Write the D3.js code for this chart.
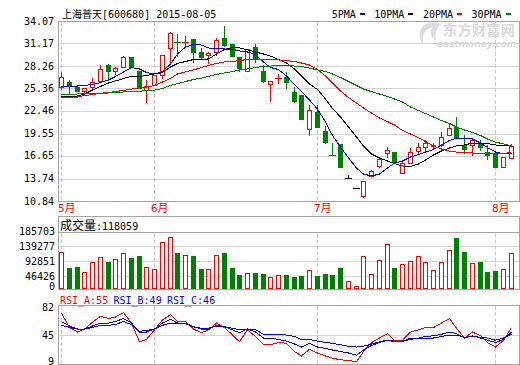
<!DOCTYPE html>
<html>
<head>
<meta charset="utf-8">
<script src="https://cdn.jsdelivr.net/npm/d3@7"></script>
<style>
  body { margin: 0; background: #fff; }
  svg { display: block; }
  text { font-family: "DejaVu Sans Mono", "Noto Sans CJK SC", monospace; font-size: 10px; }
</style>
</head>
<body>
<div id="chart"></div>
<script>
// trading days shown (2015)
const dates = [
  "05-14","05-15","05-18","05-19","05-20","05-21","05-22","05-25","05-26","05-27","05-28","05-29",
  "06-01","06-02","06-03","06-04","06-05","06-08","06-09","06-10","06-11","06-12","06-15","06-16",
  "06-17","06-18","06-19","06-23","06-24","06-25","06-26","06-29","06-30",
  "07-01","07-02","07-03","07-06","07-07","07-08","07-09","07-10","07-13","07-14","07-15","07-16",
  "07-17","07-20","07-21","07-22","07-23","07-24","07-27","07-28","07-29","07-30","07-31",
  "08-03","08-04","08-05"
];
const open = [25.51,26.20,25.55,25.00,25.49,26.37,28.39,27.66,28.17,29.39,27.66,25.17,25.81,27.10,30.55,31.42,31.40,31.71,30.11,29.64,
  30.03,31.84,31.10,29.39,27.66,30.68,27.66,25.90,26.74,26.80,24.95,24.52,20.09,22.36,19.87,16.80,18.20,13.77,12.48,11.48,
  14.10,15.40,17.00,17.12,14.41,15.78,17.33,17.85,17.99,18.07,19.36,20.35,18.07,18.07,18.36,17.20,17.07,15.27,16.35];
const high = [27.53,26.46,25.72,25.38,26.71,28.39,28.52,28.17,29.59,29.42,27.66,26.46,27.10,29.68,32.61,32.33,32.13,31.75,30.55,30.11,
  31.84,33.42,31.10,29.39,30.42,31.10,28.39,26.33,27.23,27.53,25.59,24.52,23.23,23.23,20.52,18.29,18.20,14.20,12.48,13.46,
  14.84,16.22,17.85,17.12,16.13,17.68,18.29,18.71,18.36,19.78,20.87,21.72,19.36,18.71,18.71,18.07,17.29,16.48,18.20];
const low = [25.26,24.82,25.00,24.87,25.36,26.20,26.46,27.17,28.09,28.13,25.38,23.58,25.81,26.71,28.82,29.55,30.75,28.78,29.13,28.69,
  29.68,30.84,29.59,27.66,27.66,28.82,26.16,23.78,26.11,25.46,23.66,21.46,19.36,20.35,18.36,16.78,15.19,13.77,12.48,11.32,
  14.07,15.27,16.56,15.71,14.41,15.71,17.00,17.33,17.51,17.94,19.36,18.93,17.00,16.78,17.42,16.20,15.19,15.27,16.35];
const close = [26.80,25.77,25.07,25.38,26.20,27.84,27.66,27.97,29.39,28.17,25.38,25.68,27.10,29.68,32.52,31.40,31.42,30.11,29.46,29.90,
  31.62,30.97,29.59,28.04,30.42,29.26,26.37,26.33,26.76,26.24,23.78,21.46,22.58,20.43,18.49,16.78,15.19,13.77,12.48,13.46,
  14.75,16.22,17.38,15.91,15.78,17.20,17.77,18.36,18.01,19.14,20.22,19.06,17.51,18.71,17.85,16.84,15.19,16.48,17.98];
const volume = [120400,71500,75600,58200,89300,104800,89300,99500,117300,102600,108900,73700,67500,151500,167000,117300,112900,108900,68400,67500,
  112900,117300,71500,49800,55100,56000,52900,42600,48800,48800,43500,46700,64400,46700,52900,49800,71500,30200,16500,107900,
  51900,95500,145300,71500,83100,92400,107900,89300,64400,89300,127500,164900,121300,86200,90200,59100,62200,68400,118059];

const ma5 = [25.62,25.68,25.68,25.75,25.87,26.13,26.46,26.91,27.49,28.07,27.88,27.42,27.23,27.55,28.52,29.81,30.71,31.04,30.97,30.59,
  30.52,30.46,30.42,30.20,30.07,29.75,28.78,28.07,27.81,26.97,25.87,24.97,23.87,22.71,21.04,19.29,17.81,16.39,15.10,14.32,
  14.07,14.32,15.10,15.74,16.00,16.52,16.84,17.16,17.49,18.07,18.65,18.97,18.97,18.84,18.32,17.74,17.16,16.91,17.03];
const ma10 = [24.30,24.33,24.39,24.65,25.16,25.62,26.07,26.33,26.65,26.91,26.91,27.04,27.23,27.42,28.13,28.59,28.84,29.10,29.13,29.17,
  29.81,30.39,30.65,30.59,30.33,30.07,29.81,29.55,29.10,28.65,27.88,26.97,25.94,25.23,24.00,22.78,21.68,20.39,19.10,17.94,
  16.91,16.39,16.00,15.68,15.36,15.29,15.61,16.13,16.78,17.29,17.68,17.94,18.07,18.32,18.32,18.26,18.07,18.00,17.94];
const ma20 = [24.20,24.22,24.26,24.45,24.58,24.74,24.84,24.97,25.10,25.29,25.45,25.55,25.75,26.20,26.65,27.23,27.49,27.75,28.07,28.33,
  28.59,28.78,28.84,28.97,29.10,29.13,29.10,29.04,29.04,28.97,28.84,28.65,28.39,27.81,26.97,26.07,25.04,24.20,23.49,22.84,
  22.20,21.55,21.10,20.65,19.94,19.49,19.03,18.52,17.94,17.55,17.29,17.16,17.07,17.03,16.97,16.91,16.91,16.97,17.10];
const ma30 = [24.61,24.62,24.65,24.67,24.71,24.74,24.78,24.84,24.91,24.93,25.01,25.07,25.16,25.36,25.75,26.00,26.26,26.52,26.71,26.91,
  27.17,27.36,27.55,27.75,27.88,28.07,28.20,28.26,28.29,28.29,28.26,28.20,28.00,27.75,27.55,27.23,26.78,26.26,25.75,25.29,
  24.95,24.65,24.33,24.00,23.62,22.97,22.52,22.13,21.68,21.23,20.84,20.39,20.00,19.68,19.29,18.84,18.45,18.20,17.94];

const rsiA = [74,55,49,53,62,70,67,69,75,61,36,39,52,65,72,63,63,53,48,52,
  61,55,45,36,52,43,32,32,35,34,23,17,26,21,17,14,12,11,9.4,23,
  35,41,47,38,38,49,52,55,55,61,67,54,41,49,44,35,29,38,55];
const rsiB = [63,57,53,53,57,61,61,63,67,61,48,49,53,61,66,61,61,56,53,53,
  58,56,52,48,53,49,41,41,39,37,33,29,34,29,27,25,23,21,18,25,
  31,35,38,36,36,41,41,43,44,46,49,47,41,44,41,38,35,39,49];
const rsiC = [58,55,53,53,55,58,58,59,63,59,50,51,53,58,61,61,60,56,54,54,
  57,56,54,52,53,52,46,46,46,45,43,39,39,37,35,34,32,30,29,30,
  33,36,38,37,37,39,41,41,41,43,45,45,42,43,42,41,38,41,46];

const priceTicks = [34.07, 31.17, 28.26, 25.36, 22.46, 19.55, 16.65, 13.74, 10.84];
const volTicks = [0, 46426, 92851, 139277, 185703];
const rsiTicks = [82, 45, 9];
const months = [["05-14", "5月"], ["06-01", "6月"], ["07-01", "7月"], ["08-03", "8月"]];
const maNames = ["5PMA", "10PMA", "20PMA", "30PMA"];
const rsiNames = ["RSI_A", "RSI_B", "RSI_C"];

const RED = "#ff0000", GREEN = "#008000", BLUE = "#0000ff";
const GRID = "#d4d4d4", BORDER = "#a4a4a4";

const W = 520, H = 365, left = 58, right = 519;
const mainP = {top: 21, bottom: 201};
const volP = {top: 216, bottom: 289};
const rsiP = {top: 305, bottom: 364};

const svg = d3.select("#chart").append("svg").attr("width", W).attr("height", H);
const px = v => Math.round(v) + 0.5;

const x = d3.scaleBand().domain(dates).range([57.125, 514.375]);
const cx = d => Math.round(x(d) + x.bandwidth() / 2) + 0.5;

const y = d3.scaleLinear().domain([10.84, 34.07]).range([201, 21]);
const vy = d3.scaleLinear().domain([0, 185703]).range([291, 231.5]);
const ry = d3.scaleLinear().domain([9, 82]).range([362, 307.3]);

// ---- grids and frames
function hgrid(vals, sc) {
  svg.append("g").selectAll("line").data(vals).join("line")
    .attr("x1", left).attr("x2", right)
    .attr("y1", d => px(sc(d))).attr("y2", d => px(sc(d)))
    .attr("stroke", GRID);
}
hgrid(priceTicks.slice(1, -1), y);
hgrid(volTicks.slice(1, -1), vy);
hgrid([45], ry);

function dashes(y1, y2) {
  svg.append("g").selectAll("line").data(months).join("line")
    .attr("x1", d => cx(d[0])).attr("x2", d => cx(d[0]))
    .attr("y1", y1).attr("y2", y2)
    .attr("stroke", "#c8c8c8").attr("stroke-dasharray", "4,2");
}
dashes(mainP.top + 1, mainP.bottom);
dashes(px(vy(185703)) + 1, volP.bottom);
dashes(rsiP.top + 1, rsiP.bottom);

// volume top gridline is darker like the frame
svg.append("line").attr("x1", left).attr("x2", right)
  .attr("y1", px(vy(185703))).attr("y2", px(vy(185703))).attr("stroke", BORDER);

[mainP, volP, rsiP].forEach(p => {
  svg.append("rect").attr("x", left + 0.5).attr("y", p.top + 0.5)
    .attr("width", right - left).attr("height", p.bottom - p.top)
    .attr("fill", "none").attr("stroke", BORDER);
});

// ---- axis labels
svg.append("g").selectAll("text").data(priceTicks).join("text")
  .attr("x", 54).attr("y", d => y(d) + 3.5).attr("text-anchor", "end")
  .text(d => d.toFixed(2));
svg.append("g").selectAll("text").data(volTicks).join("text")
  .attr("x", 55).attr("y", d => Math.min(vy(d) + 3.5, 289.5)).attr("text-anchor", "end")
  .text(d => d);
svg.append("g").selectAll("text").data(rsiTicks).join("text")
  .attr("x", 54).attr("y", d => Math.min(ry(d) + 3.5, 364.5)).attr("text-anchor", "end")
  .text(d => d);

svg.append("g").selectAll("text").data(months).join("text")
  .attr("x", d => cx(d[0]) - 3.5).attr("y", 212)
  .attr("fill", RED).style("font-size", "11px")
  .text(d => d[1]);

// ---- watermark (logo swoosh + site name)
svg.append("path")
  .attr("d", "M428,23 C418,28 417,38 424,45 C421,37 424,30 432,27 C430,33 431,38 436,41 C434,34 437,27 441,24 C437,22 432,22 428,23 Z")
  .attr("fill", "#dcdcdc");
svg.append("text").attr("x", 443).attr("y", 35).attr("fill", "#d9d9d9")
  .attr("textLength", 72).attr("lengthAdjust", "spacingAndGlyphs")
  .style("font-size", "14px").style("font-weight", "bold").style("font-family", "Noto Sans CJK SC")
  .text("东方财富网");
svg.append("text").attr("x", 437).attr("y", 46.5).attr("fill", "#d9d9d9")
  .attr("textLength", 79).attr("lengthAdjust", "spacingAndGlyphs")
  .style("font-size", "8.5px").style("font-weight", "bold").style("font-style", "italic")
  .style("font-family", "DejaVu Sans")
  .text("eastmoney.com");

// ---- candles
const candles = dates.map((d, i) => ({d, o: open[i], h: high[i], l: low[i], c: close[i], v: volume[i]}));
const candleColor = k => k.c > k.o ? RED : k.c < k.o ? GREEN : "#000";

const cg = svg.append("g").attr("shape-rendering", "crispEdges");
candles.forEach(k => {
  const X = cx(k.d), col = candleColor(k);
  const yh = Math.round(y(k.h)), yl = Math.round(y(k.l));
  const yo = Math.round(y(k.o)), yc = Math.round(y(k.c));
  const top = Math.min(yo, yc), bot = Math.max(yo, yc);
  cg.append("line").attr("x1", X).attr("x2", X).attr("y1", yh).attr("y2", yl + 1).attr("stroke", col);
  if (k.c === k.o || top === bot) {
    cg.append("line").attr("x1", X - 3.5).attr("x2", X + 3.5)
      .attr("y1", top + 0.5).attr("y2", top + 0.5).attr("stroke", col);
  } else if (k.c > k.o) {
    cg.append("rect").attr("x", X - 2).attr("y", top + 0.5)
      .attr("width", 4).attr("height", bot - top)
      .attr("fill", "#fff").attr("stroke", RED);
  } else {
    cg.append("rect").attr("x", X - 2.5).attr("y", top)
      .attr("width", 5).attr("height", bot - top + 1)
      .attr("fill", GREEN);
  }
});

// ---- moving averages
const line = sc => d3.line().x((v, i) => cx(dates[i])).y(v => sc(v));
const maColors = [BLUE, "#000", RED, GREEN];
[ma5, ma10, ma20, ma30].forEach((s, j) => {
  svg.append("path").datum(s).attr("d", line(y)).attr("fill", "none")
    .attr("stroke", maColors[j]).attr("stroke-width", 1).attr("shape-rendering", "crispEdges");
});

// ---- volume bars
const vg = svg.append("g").attr("shape-rendering", "crispEdges");
candles.forEach(k => {
  const X = cx(k.d), top = Math.round(vy(k.v));
  if (k.c >= k.o) {
    vg.append("rect").attr("x", X - 2).attr("y", top + 0.5)
      .attr("width", 4).attr("height", Math.max(1, volP.bottom - 1 - top))
      .attr("fill", "#fff").attr("stroke", RED);
  } else {
    vg.append("rect").attr("x", X - 2.5).attr("y", top)
      .attr("width", 5).attr("height", volP.bottom - top)
      .attr("fill", GREEN);
  }
});

// ---- RSI lines
const rsiColors = [RED, BLUE, BLUE];
[rsiA, rsiB, rsiC].forEach((s, j) => {
  svg.append("path").datum(s).attr("d", line(ry)).attr("fill", "none")
    .attr("stroke", rsiColors[j]).attr("stroke-width", 1).attr("shape-rendering", "crispEdges");
});

// ---- titles and legends
svg.append("text").attr("x", 62).attr("y", 17.5).text("上海普天[600680] 2015-08-05");

let lx = 331.7;
maNames.forEach((n, j) => {
  const t = svg.append("text").attr("x", lx).attr("y", 17.5).text(n);
  const w = t.node().getComputedTextLength();
  svg.append("rect").attr("x", Math.round(lx + w + 4)).attr("y", 13)
    .attr("width", 5).attr("height", 2).attr("fill", maColors[j]);
  lx = lx + w + 18.5;
});

const volTitle = svg.append("text").attr("x", 60).attr("y", 229.5);
volTitle.append("tspan").style("font-size", "12px").text("成交量");
volTitle.append("tspan").text(":" + volume[volume.length - 1]);

[rsiA, rsiB, rsiC].forEach((s, j) => {
  svg.append("text").attr("x", 60 + j * 53.5).attr("y", 303.5)
    .attr("fill", rsiColors[j]).text(rsiNames[j] + ":" + Math.round(s[s.length - 1]));
});
</script>
</body>
</html>
